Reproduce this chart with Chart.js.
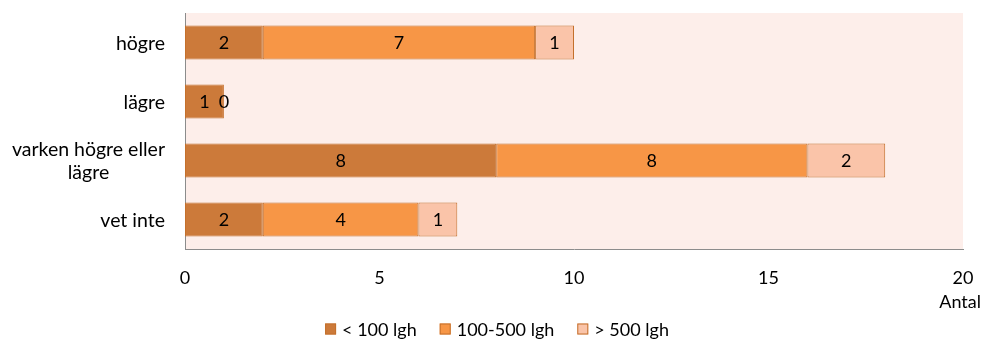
<!DOCTYPE html>
<html><head><meta charset="utf-8">
<script src="https://cdn.jsdelivr.net/npm/chart.js@4/dist/chart.umd.min.js"></script>
<style>html,body{margin:0;padding:0;background:#fff}#wrap{width:988px;height:360px}</style>
</head><body><div id="wrap"><canvas id="c"></canvas></div>
<script>
const categories = [["högre"], ["lägre"], ["varken högre eller", "lägre"], ["vet inte"]];
const seriesNames = ["< 100 lgh", "100-500 lgh", "> 500 lgh"];
const under100 = [2, 1, 8, 2];
const from100to500 = [7, 0, 8, 4];
const over500 = [1, null, 2, 1];
const xTicks = [0, 5, 10, 15, 20];
const axisTitle = "Antal";

const FONT = "Lato";
const FS = 18;
const FS_CAT = 19.5;
const colors = ["#CC7A3A", "#F79646", "#FAC4A9"];
const borderCol = "#C4702C";
const bgCol = "#FDEEEA";

const bgPlugin = {
  id: "bg",
  beforeDraw(chart) {
    const a = chart.chartArea, ctx = chart.ctx;
    ctx.save(); ctx.fillStyle = bgCol;
    ctx.fillRect(a.left, a.top, a.right - a.left, a.bottom - a.top);
    ctx.restore();
  }
};

const labelPlugin = {
  id: "labels",
  afterDatasetsDraw(chart) {
    const ctx = chart.ctx;
    ctx.save();
    ctx.font = FS + "px " + FONT;
    ctx.fillStyle = "#000";
    ctx.textAlign = "center"; ctx.textBaseline = "middle";
    chart.data.datasets.forEach((ds, di) => {
      const meta = chart.getDatasetMeta(di);
      meta.data.forEach((el, i) => {
        const v = ds.data[i];
        if (v === null || v === undefined) return;
        const p = el.getCenterPoint();
        ctx.fillText(String(v), p.x, p.y + 1);
      });
    });
    // y category labels (multi-line centered, block right aligned)
    ctx.font = FS_CAT + "px " + FONT;
    const ys = chart.scales.y;
    chart.data.labels.forEach((lab, i) => {
      const lines = Array.isArray(lab) ? lab : [lab];
      const w = Math.max(...lines.map(l => ctx.measureText(l).width));
      const cx = ys.right - 20 - w / 2;
      const cy = ys.getPixelForValue(i);
      const lh = 23;
      lines.forEach((l, k) => {
        ctx.fillText(l, cx, cy + (k - (lines.length - 1) / 2) * lh + 1);
      });
    });
    ctx.font = FS + "px " + FONT;
    // axis title
    ctx.textAlign = "right";
    ctx.fillText(axisTitle, 981, 302);
    // legend
    const gapBox = 6, gapItem = 23, box = 11;
    const widths = chart.data.datasets.map(d => box + gapBox + ctx.measureText(d.label).width);
    const total = widths.reduce((a, b) => a + b, 0) + gapItem * (widths.length - 1);
    let x = 497 - total / 2;
    const ly = 329;
    chart.data.datasets.forEach((d, di) => {
      ctx.fillStyle = d.backgroundColor;
      ctx.fillRect(x, ly - box / 2, box, box);
      ctx.strokeStyle = borderCol; ctx.lineWidth = 1;
      ctx.strokeRect(x + 0.5, ly - box / 2 + 0.5, box - 1, box - 1);
      ctx.fillStyle = "#000"; ctx.textAlign = "left";
      ctx.fillText(d.label, x + box + gapBox, ly + 1);
      x += widths[di] + gapItem;
    });
    ctx.restore();
  }
};

const seriesData = [under100, from100to500, over500];
new Chart(document.getElementById("c"), {
  type: "bar",
  data: {
    labels: categories,
    datasets: seriesNames.map((n, i) => ({
      label: n,
      data: seriesData[i],
      backgroundColor: colors[i],
      borderColor: borderCol,
      borderWidth: 1,
      borderSkipped: false,
      barPercentage: 0.576,
      categoryPercentage: 1
    }))
  },
  options: {
    indexAxis: "y",
    responsive: true,
    maintainAspectRatio: false,
    animation: false,
    layout: { padding: { top: 13, right: 25, left: 0, bottom: 0 } },
    plugins: { legend: { display: false }, tooltip: { enabled: false } },
    scales: {
      x: {
        stacked: true, min: 0, max: 20,
        afterBuildTicks(s) { s.ticks = xTicks.map(v => ({ value: v })); },
        afterFit(s) { s.height = 111; s.paddingRight = 0; s.paddingLeft = 0; },
        grid: { display: false, drawTicks: false },
        border: { display: true, color: "#8C8C8C", width: 1 },
        ticks: { color: "#000", font: { family: FONT, size: FS }, padding: 18, maxRotation: 0 }
      },
      y: {
        stacked: true,
        afterFit(s) { s.width = 185; },
        grid: { display: false, drawTicks: false },
        border: { display: true, color: "#8C8C8C", width: 1 },
        ticks: { display: false }
      }
    }
  },
  plugins: [bgPlugin, labelPlugin]
});
</script>
</body></html>
